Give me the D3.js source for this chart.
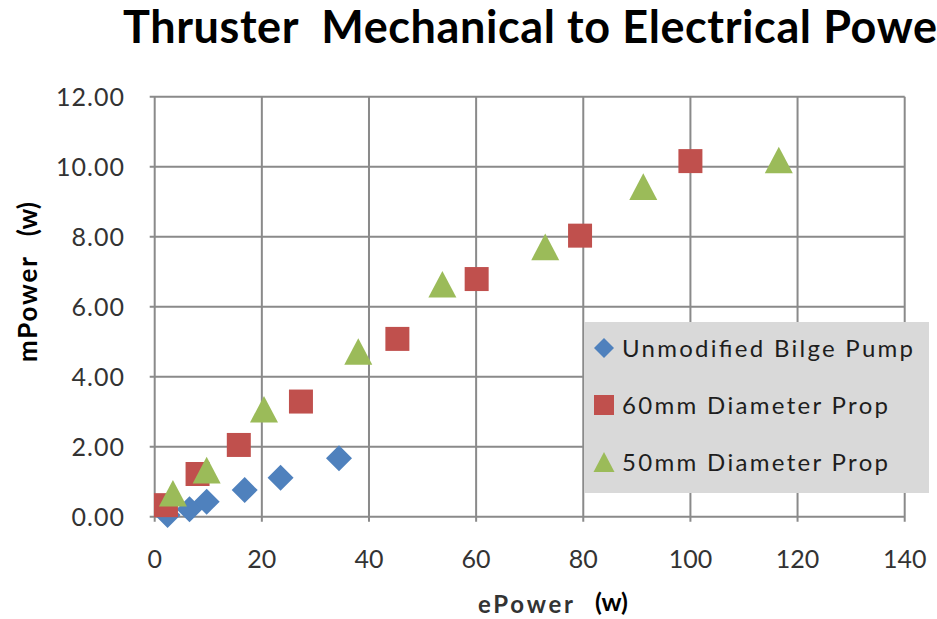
<!DOCTYPE html>
<html lang="en">
<head>
    <meta charset="UTF-8">
    <title>Thruster Mechanical to Electrical Power</title>
    <script src="https://d3js.org/d3.v7.min.js"></script>
    <style>
        body {
            margin: 0;
            background: white;
            overflow: hidden;
        }
        text {
            font-family: Lato, "Open Sans", sans-serif;
        }
    </style>
</head>
<body>
    <div id="chart"></div>

    <script>
        // data
        const bilgeX = [2.4, 6.5, 9.7, 16.8, 23.5, 34.4];
        const bilgeY = [0.05, 0.21, 0.43, 0.76, 1.11, 1.67];

        const prop60X = [2.1, 8.0, 15.7, 27.3, 45.3, 60.1, 79.4, 100.0];
        const prop60Y = [0.33, 1.22, 2.05, 3.29, 5.08, 6.79, 8.03, 10.16];

        const prop50X = [3.4, 9.7, 20.4, 38.0, 53.7, 72.9, 91.2, 116.5];
        const prop50Y = [0.67, 1.33, 3.07, 4.72, 6.64, 7.71, 9.43, 10.19];

        const seriesNames = ["Unmodified Bilge Pump", "60mm Diameter Prop", "50mm Diameter Prop"];
        const xTicks = [0, 20, 40, 60, 80, 100, 120, 140];
        const yTicks = [0, 2, 4, 6, 8, 10, 12];

        const width = 937,
              height = 619;

        const svg = d3.select("#chart")
                      .append("svg")
                      .attr("width", width)
                      .attr("height", height);

        const x = d3.scaleLinear().domain([0, 140]).range([154.7, 904.7]);
        const y = d3.scaleLinear().domain([0, 12]).range([516.7, 96.7]);

        const gridColor = "#8a8a8a";

        // Excel style markers: diamond is a rotated square, triangle centred on its box
        const diamond = {
            draw(ctx, size) {
                const r = Math.sqrt(size) / 2;
                ctx.moveTo(0, -r); ctx.lineTo(r, 0); ctx.lineTo(0, r); ctx.lineTo(-r, 0); ctx.closePath();
            }
        };
        const triangle = {
            draw(ctx, size) {
                const w = Math.sqrt(size) / 2;
                const h = w * 0.95;
                ctx.moveTo(0, -h); ctx.lineTo(w, h); ctx.lineTo(-w, h); ctx.closePath();
            }
        };
        const square = {
            draw(ctx, size) {
                const r = Math.sqrt(size) / 2;
                ctx.rect(-r, -r, 2 * r, 2 * r);
            }
        };

        const series = [
            {name: seriesNames[0], xs: bilgeX, ys: bilgeY, color: "#4f81bd", type: diamond, size: 26 * 26, legendSize: 20 * 20},
            {name: seriesNames[1], xs: prop60X, ys: prop60Y, color: "#c0504d", type: square, size: 24 * 24, legendSize: 20 * 20},
            {name: seriesNames[2], xs: prop50X, ys: prop50Y, color: "#9bbb59", type: triangle, size: 28 * 28, legendSize: 21 * 21}
        ];

        // gridlines
        svg.append("g")
           .selectAll("line")
           .data(xTicks)
           .enter()
           .append("line")
           .attr("x1", d => x(d)).attr("x2", d => x(d))
           .attr("y1", y(12)).attr("y2", y(0) + 5)
           .attr("stroke", gridColor)
           .attr("stroke-width", 2);

        svg.append("g")
           .selectAll("line")
           .data(yTicks)
           .enter()
           .append("line")
           .attr("x1", x(0) - 5).attr("x2", x(140))
           .attr("y1", d => y(d)).attr("y2", d => y(d))
           .attr("stroke", gridColor)
           .attr("stroke-width", 2);

        // tick labels
        svg.append("g")
           .selectAll("text")
           .data(yTicks)
           .enter()
           .append("text")
           .attr("x", 125)
           .attr("y", d => y(d) + 9)
           .attr("text-anchor", "end")
           .attr("fill", "#333")
           .style("font-size", "25px")
           .style("letter-spacing", "1px")
           .text(d => d.toFixed(2));

        svg.append("g")
           .selectAll("text")
           .data(xTicks)
           .enter()
           .append("text")
           .attr("x", d => x(d))
           .attr("y", 568)
           .attr("text-anchor", "middle")
           .attr("fill", "#333")
           .style("font-size", "25px")
           .text(d => d);

        // points
        series.forEach(s => {
            svg.append("g")
               .selectAll("path")
               .data(s.xs.map((v, i) => [v, s.ys[i]]))
               .enter()
               .append("path")
               .attr("transform", d => `translate(${x(d[0])},${y(d[1])})`)
               .attr("d", d3.symbol().type(s.type).size(s.size))
               .attr("fill", s.color);
        });

        // legend
        const legend = svg.append("g").attr("transform", "translate(584,322)");
        legend.append("rect")
              .attr("width", 345)
              .attr("height", 171)
              .attr("fill", "#d9d9d9");

        const lengths = [291, 266, 266];
        series.forEach((s, i) => {
            const row = legend.append("g").attr("transform", `translate(0,${26 + i * 57})`);
            row.append("path")
               .attr("transform", "translate(20,0)")
               .attr("d", d3.symbol().type(s.type).size(s.legendSize))
               .attr("fill", s.color);
            row.append("text")
               .attr("x", 38)
               .attr("y", 9)
               .attr("fill", "#1e1e1e")
               .attr("textLength", lengths[i])
               .style("font-size", "24px")
               .text(s.name);
        });

        // title, spaced so that "Powe" reaches the right edge like the reference
        const titleText = "Thruster  Mechanical to Electrical Power";
        const title = svg.append("text")
                         .attr("x", 123)
                         .attr("y", 43)
                         .attr("fill", "black")
                         .style("font-size", "45px")
                         .style("font-weight", "bold")
                         .style("white-space", "pre")
                         .text(titleText);
        const node = title.node();
        const visible = titleText.length - 1;
        const natural = node.getSubStringLength(0, visible);
        const ls = (937 - 123 - natural) / (visible - 1);
        title.style("letter-spacing", ls + "px");

        // axis titles
        const yTitle = svg.append("text")
                          .attr("transform", "translate(37,362) rotate(-90)")
                          .attr("fill", "black")
                          .style("font-size", "26px")
                          .style("font-weight", "bold");
        yTitle.append("tspan").attr("textLength", 105).text("mPower");
        yTitle.append("tspan").attr("dx", 19).text("(w)");

        svg.append("text")
           .attr("x", 478)
           .attr("y", 613)
           .attr("fill", "#333")
           .attr("textLength", 95)
           .style("font-size", "24px")
           .style("font-weight", "bold")
           .text("ePower");

        svg.append("text")
           .attr("x", 595)
           .attr("y", 611)
           .attr("fill", "black")
           .style("font-size", "25px")
           .style("font-weight", "bold")
           .text("(w)");
    </script>
</body>
</html>
